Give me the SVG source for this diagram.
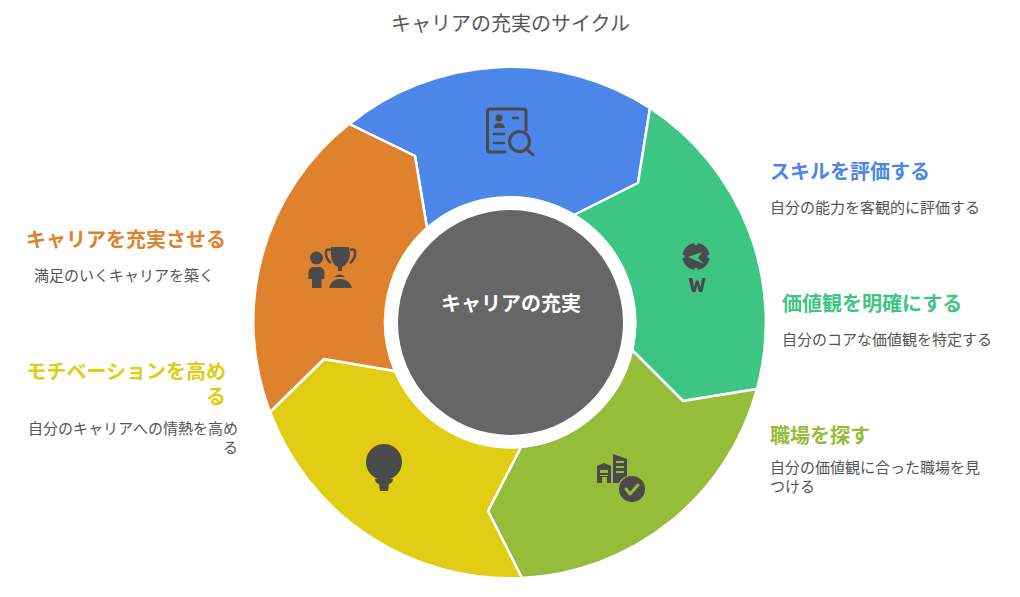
<svg xmlns="http://www.w3.org/2000/svg" width="1020" height="597" viewBox="0 0 1020 597">
<style>
text{font-family:"Noto Sans CJK JP","Noto Sans",sans-serif}
.seg{stroke:#fff;stroke-width:2.5;stroke-linejoin:round}
.h{font-size:20px;font-weight:700}
.d{font-size:15px;fill:#555}
.i{fill:#4a4a4a}
.o{fill:none;stroke:#4a4a4a;stroke-width:3;stroke-linecap:round;stroke-linejoin:round}
</style>
<rect width="1020" height="597" fill="#fff"/>
<text x="510.500" y="31" font-size="20" fill="#555" text-anchor="middle">キャリアの充実のサイクル</text>
<g id="connectors"></g>
<g id="node-skill">
<path class="seg" fill="#4c86e8" d="M349.500 124A256 256 0 0 1 650 108L638 183L574 215A126 126 0 0 0 427 228L415 156Z"/>
<g class="o"><path d="M505 152H490Q487.500 152 487.500 149V112Q487.500 109 490 109H523Q526 109 526 112V130"/><path d="M494 134H504M494 143H504M513 118H518" stroke-width="2.500"/><circle cx="519.500" cy="141.500" r="10"/><path d="M527 149.500L533 155"/></g>
<circle class="i" cx="499" cy="118" r="3.500"/><path class="i" d="M494 128Q494 123 499 123Q504 123 505 128Z"/>
</g>
<g id="node-values">
<path class="seg" fill="#3dc683" d="M650 108A256 256 0 0 1 757 389L683 401L632 350A126 126 0 0 0 574 215L638 183Z"/>
<circle class="i" cx="696" cy="256.500" r="13.500"/>
<path fill="#3dc683" d="M694.500 242h3v3h-3zM694.500 268h3v3h-3zM681.500 255h3v3h-3zM707.500 255h3v3h-3zM688 257L702 252L698 258L704 264Z"/>
<path class="i" d="M688.500 278H692.500L694 287L696 280.500H698.500L700.500 287L702 278H705.500L702.500 292H699L697.200 286L695.500 292H692Z"/>
</g>
<g id="node-workplace">
<path class="seg" fill="#95bd3a" d="M757 389A256 256 0 0 1 522 578L488 511L521 447A126 126 0 0 0 632 350L683 401Z"/>
<path class="i" fill-rule="evenodd" d="M597 483V466L604 463L611 466V483H607V477H602V483ZM600 470V473H608V470ZM600 475V476H608V475Z"/>
<path class="i" fill-rule="evenodd" d="M613 483V454L627 459V476Q621 478 619 483ZM616 461V463H624V461ZM616 466V468H624V466ZM616 471V473H624V471Z"/>
<circle class="i" cx="632" cy="489" r="13"/>
<path d="M626 489L630 494L638 485" fill="none" stroke="#95bd3a" stroke-width="3" stroke-linecap="round" stroke-linejoin="round"/>
</g>
<g id="node-motivation">
<path class="seg" fill="#e0cd14" d="M522 578A256 256 0 0 1 270 412L324 359L395 371A126 126 0 0 0 521 447L488 511Z"/>
<circle class="i" cx="384" cy="462" r="18"/>
<path class="i" d="M375 479H393Q393 483 389 484L388 491H380L379 484Q375 483 375 479Z"/>
</g>
<g id="node-fulfil">
<path class="seg" fill="#de822e" d="M270 412A252 252 0 0 1 349 124L415 156L427 228A126 126 0 0 0 395 371L324 359Z"/>
<circle class="i" cx="316.500" cy="258" r="6.500"/>
<path class="i" d="M313 267H320Q324.500 268 324.500 273V279L321.500 279V288H312V279L308.500 279V273Q308.500 268 313 267Z"/>
<path class="i" d="M331 247H349L350 254Q349 264 342 267V271H338V267Q331 264 331 254Z"/>
<path d="M331 250Q325 248 326 254Q326 259 331 263M350 250Q356 248 355 254Q355 259 350 263" fill="none" stroke="#4a4a4a" stroke-width="2.500"/>
<path class="i" d="M334 277Q340 272 345 277ZM329 288Q331 279 340 279Q349 279 352 288Z"/>
</g>
<g id="center">
<circle cx="510.500" cy="322.500" r="126" fill="#fff"/>
<circle cx="510.500" cy="322.500" r="112.500" fill="#666"/>
<text x="511" y="311" font-size="20" font-weight="700" fill="#fff" text-anchor="middle">キャリアの充実</text>
</g>
<g id="label-skill"><text class="h" x="770" y="179" fill="#4c86e8">スキルを評価する</text><text class="d" x="770" y="213">自分の能力を客観的に評価する</text></g>
<g id="label-values"><text class="h" x="782" y="311" fill="#3dc683">価値観を明確にする</text><text class="d" x="782" y="345">自分のコアな価値観を特定する</text></g>
<g id="label-workplace"><text class="h" x="770" y="443" fill="#95bd3a">職場を探す</text><text class="d" x="770" y="473">自分の価値観に合った職場を見</text><text class="d" x="770" y="492">つける</text></g>
<g id="label-fulfil"><text class="h" x="226" y="247" fill="#de822e" text-anchor="end">キャリアを充実させる</text><text class="d" x="214" y="281" text-anchor="end">満足のいくキャリアを築く</text></g>
<g id="label-motivation"><text class="h" x="226" y="379" fill="#e0cd14" text-anchor="end">モチベーションを高め</text><text class="h" x="226" y="404" fill="#e0cd14" text-anchor="end">る</text><text class="d" x="238" y="434" text-anchor="end">自分のキャリアへの情熱を高め</text><text class="d" x="238" y="453" text-anchor="end">る</text></g>
</svg>
